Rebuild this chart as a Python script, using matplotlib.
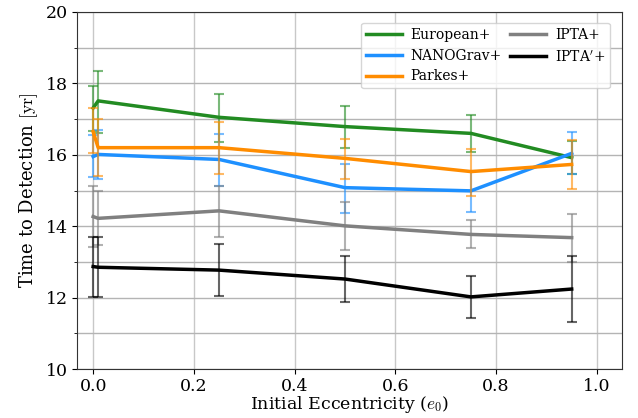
import numpy as np
import matplotlib
matplotlib.use('Agg')
import matplotlib.pyplot as plt
from matplotlib.ticker import MultipleLocator

plt.rcParams['font.family'] = 'DejaVu Serif'
plt.rcParams['mathtext.fontset'] = 'cm'

ecc = [0.0, 0.01, 0.25, 0.5, 0.75, 0.95]

# median and error bar ends (lower, upper)
european = [17.31, 17.51, 17.05, 16.79, 16.60, 15.92]
european_lo = [16.68, 16.62, 16.37, 16.20, 16.07, 15.46]
european_hi = [17.94, 18.36, 17.71, 17.38, 17.11, 16.38]

nanograv = [15.95, 16.01, 15.87, 15.08, 14.99, 16.04]
nanograv_lo = [15.37, 15.31, 15.14, 14.37, 14.40, 15.45]
nanograv_hi = [16.55, 16.69, 16.58, 15.74, 15.55, 16.63]

parkes = [16.65, 16.20, 16.20, 15.90, 15.53, 15.73]
parkes_lo = [16.04, 15.41, 15.46, 15.32, 14.85, 15.03]
parkes_hi = [17.31, 17.00, 16.91, 16.44, 16.16, 16.41]

ipta = [14.27, 14.22, 14.43, 14.01, 13.77, 13.68]
ipta_lo = [13.41, 13.47, 13.69, 13.33, 13.38, 12.99]
ipta_hi = [15.13, 14.99, 15.12, 14.69, 14.17, 14.33]

ipta2 = [12.87, 12.85, 12.77, 12.52, 12.02, 12.24]
ipta2_lo = [12.01, 12.01, 12.04, 11.88, 11.42, 11.32]
ipta2_hi = [13.71, 13.69, 13.49, 13.17, 12.61, 13.17]

series = [
    ('European+', european, european_lo, european_hi, 'forestgreen'),
    ('NANOGrav+', nanograv, nanograv_lo, nanograv_hi, 'dodgerblue'),
    ('Parkes+', parkes, parkes_lo, parkes_hi, 'darkorange'),
    ('IPTA+', ipta, ipta_lo, ipta_hi, 'gray'),
    ("IPTA$'$+", ipta2, ipta2_lo, ipta2_hi, 'black'),
]

fig = plt.figure(figsize=(6.38, 4.18), dpi=100)
ax = fig.add_axes([0.1207, 0.1172, 0.8543, 0.8541])

for name, y, lo, hi, c in series:
    y = np.array(y)
    err = [y - np.array(lo), np.array(hi) - y]
    ax.errorbar(ecc, y, yerr=err, fmt='none', ecolor=c, elinewidth=1.5,
                capsize=3.5, capthick=1.5, alpha=0.6)
    ax.plot(ecc, y, color=c, lw=2.5, label=name)

ax.set_xlim(-0.032, 1.05)
ax.set_ylim(10, 20)
ax.yaxis.set_major_locator(MultipleLocator(2))
ax.yaxis.set_minor_locator(MultipleLocator(1))
ax.grid(True, which='major', axis='x', color='#c8c8c8', lw=1)
ax.grid(True, which='both', axis='y', color='#b4b4b4', lw=1)
ax.set_axisbelow(True)
for s in ax.spines.values():
    s.set_color('#333333')
ax.tick_params(labelsize=12.5, pad=3)
ax.set_xlabel(r'Initial Eccentricity ($e_0$)', fontsize=12.5, labelpad=-1)
ax.set_ylabel(r'Time to Detection $[\mathrm{yr}]$', fontsize=13)
ax.legend(loc='upper right', ncol=2, fontsize=10, handlelength=2.6,
          columnspacing=0.6, labelspacing=0.5, handletextpad=0.6,
          borderpad=0.35, borderaxespad=0, bbox_to_anchor=(0.978, 0.97))

fig.savefig('out.png', dpi=100)
